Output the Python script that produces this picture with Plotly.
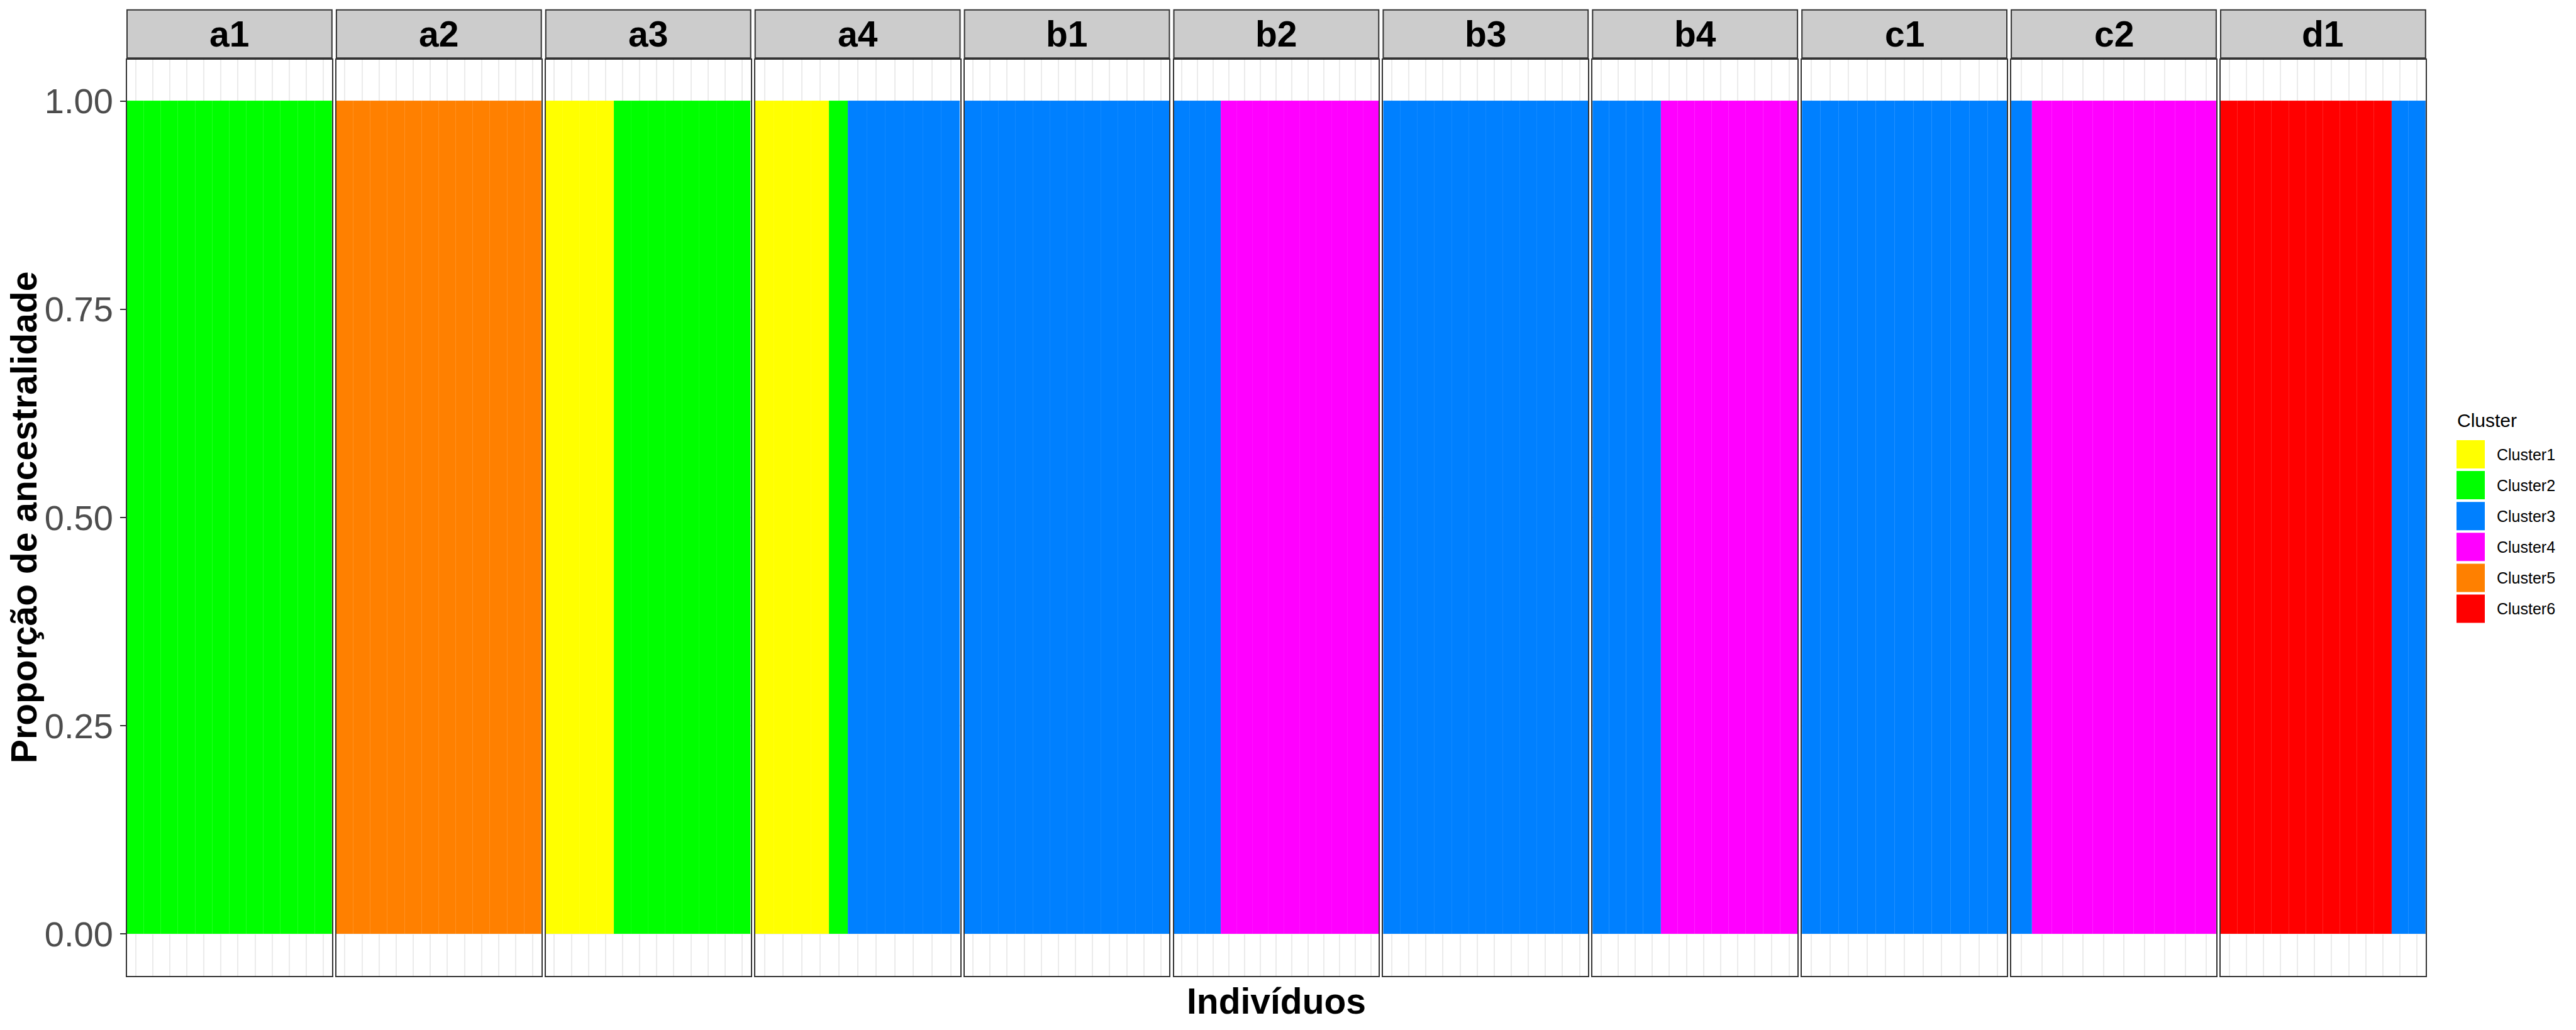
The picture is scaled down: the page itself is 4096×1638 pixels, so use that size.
import plotly.graph_objects as go

# ---------------- data ----------------
populations = ["a1", "a2", "a3", "a4", "b1", "b2", "b3", "b4", "c1", "c2", "d1"]
cluster_names = ["Cluster1", "Cluster2", "Cluster3", "Cluster4", "Cluster5", "Cluster6"]
cluster_colors = ["#FFFF00", "#00FF00", "#0080FF", "#FF00FF", "#FF8000", "#FF0000"]

# dominant cluster (1..6) of each individual
a1 = [2, 2, 2, 2, 2, 2, 2, 2, 2, 2, 2, 2]
a2 = [5, 5, 5, 5, 5, 5, 5, 5, 5, 5, 5, 5]
a3 = [1, 1, 1, 1, 2, 2, 2, 2, 2, 2, 2, 2]
a4 = [1, 1, 1, 1, 2, 3, 3, 3, 3, 3, 3]
b1 = [3, 3, 3, 3, 3, 3, 3, 3, 3, 3, 3, 3]
b2 = [3, 3, 3, 4, 4, 4, 4, 4, 4, 4, 4, 4, 4]
b3 = [3, 3, 3, 3, 3, 3, 3, 3, 3, 3, 3, 3]
b4 = [3, 3, 3, 3, 4, 4, 4, 4, 4, 4, 4, 4]
c1 = [3, 3, 3, 3, 3, 3, 3, 3, 3, 3, 3]
c2 = [3, 4, 4, 4, 4, 4, 4, 4, 4, 4]
d1 = [6, 6, 6, 6, 6, 6, 6, 6, 6, 6, 3, 3]
assignments = [a1, a2, a3, a4, b1, b2, b3, b4, c1, c2, d1]
membership = 1.0  # ancestry proportion of the assigned cluster (all bars reach 1.00)

y_ticks = [0.0, 0.25, 0.50, 0.75, 1.0]
y_ticklabels = ["0.00", "0.25", "0.50", "0.75", "1.00"]

# ---------------- layout geometry (pixels of the 4096x1638 window) ----------------
W, H = 4096, 1638
panel_left = 202.0
panel_w = 325.8
panel_gap = 7.1
panel_top = 94.5
panel_bottom = 1551.5
strip_top = 15.7
strip_bottom = 92.3

FONT = "Liberation Sans, Arial, Helvetica, sans-serif"

def px(x):
    return x / W

def py(y):
    return 1 - y / H

fig = go.Figure()
shapes = []
annotations = []
layout_axes = {}

for i, (pop, assign) in enumerate(zip(populations, assignments)):
    k = "" if i == 0 else str(i + 1)
    xa, ya = "x" + k, "y" + k
    n = len(assign)
    xs = list(range(1, n + 1))
    for c, (cname, ccol) in enumerate(zip(cluster_names, cluster_colors)):
        cx = [x for x, a in zip(xs, assign) if a == c + 1]
        cy = [membership for a in assign if a == c + 1]
        if not cx:
            continue
        fig.add_trace(go.Bar(
            x=cx, y=cy, xaxis=xa, yaxis=ya, name=cname,
            marker=dict(color=ccol, line=dict(width=0.7, color="rgba(255,255,255,0.10)")),
            width=1.0, showlegend=False, hoverinfo="skip"))
    x0 = panel_left + i * (panel_w + panel_gap)
    x1 = x0 + panel_w
    layout_axes["xaxis" + k] = dict(
        domain=[px(x0), px(x1)], anchor=ya, range=[0.5, n + 0.5],
        tickmode="array", tickvals=xs, showticklabels=False, ticks="",
        showgrid=True, gridcolor="#EBEBEB", gridwidth=2, zeroline=False,
        showline=True, mirror=True, linecolor="#333333", linewidth=2)
    layout_axes["yaxis" + k] = dict(
        domain=[py(panel_bottom), py(panel_top)], anchor=xa, range=[-0.05, 1.05],
        tickmode="array", tickvals=y_ticks, ticktext=y_ticklabels,
        showticklabels=(i == 0), ticks="outside" if i == 0 else "",
        ticklen=9, tickwidth=2, tickcolor="#333333",
        tickfont=dict(family=FONT, size=56, color="#4D4D4D"),
        showgrid=True, gridcolor="#EBEBEB", gridwidth=2, zeroline=False,
        showline=True, mirror=True, linecolor="#333333", linewidth=2)
    # facet strip
    shapes.append(dict(type="rect", xref="paper", yref="paper",
                       x0=px(x0), x1=px(x1), y0=py(strip_bottom), y1=py(strip_top),
                       fillcolor="#CCCCCC", line=dict(color="#333333", width=2)))
    annotations.append(dict(xref="paper", yref="paper", x=px((x0 + x1) / 2),
                            y=py((strip_top + strip_bottom) / 2), text=pop, showarrow=False,
                            xanchor="center", yanchor="middle",
                            font=dict(family=FONT, size=57, color="black", weight="bold")))

# axis titles
plot_left = panel_left
plot_right = panel_left + 11 * panel_w + 10 * panel_gap
annotations.append(dict(xref="paper", yref="paper", x=px((plot_left + plot_right) / 2),
                        y=py(1592), text="Indivíduos", showarrow=False,
                        xanchor="center", yanchor="middle",
                        font=dict(family=FONT, size=57, color="black", weight="bold")))
annotations.append(dict(xref="paper", yref="paper", x=px(38),
                        y=py((panel_top + panel_bottom) / 2), text="Proporção de ancestralidade",
                        showarrow=False, textangle=-90, xanchor="center", yanchor="middle",
                        font=dict(family=FONT, size=57, color="black", weight="bold")))

# legend (drawn manually to match ggplot key size)
leg_x = 3906
key_w = 45
key_top0 = 700
key_step = 49.1
annotations.append(dict(xref="paper", yref="paper", x=px(leg_x - 1), y=py(668),
                        text="Cluster", showarrow=False, xanchor="left", yanchor="middle",
                        font=dict(family=FONT, size=30, color="black")))
for j, (cname, ccol) in enumerate(zip(cluster_names, cluster_colors)):
    t = key_top0 + j * key_step
    shapes.append(dict(type="rect", xref="paper", yref="paper",
                       x0=px(leg_x), x1=px(leg_x + key_w), y0=py(t + key_w), y1=py(t),
                       fillcolor=ccol, line=dict(width=0)))
    annotations.append(dict(xref="paper", yref="paper", x=px(3968), y=py(t + key_w / 2),
                            text=cname, showarrow=False, xanchor="left", yanchor="middle",
                            font=dict(family=FONT, size=25, color="black")))

fig.update_layout(
    width=W, height=H, margin=dict(l=0, r=0, t=0, b=0),
    paper_bgcolor="white", plot_bgcolor="white",
    barmode="stack", bargap=0, bargroupgap=0,
    showlegend=False, shapes=shapes, annotations=annotations,
    **layout_axes)

fig.write_html("out.html")
